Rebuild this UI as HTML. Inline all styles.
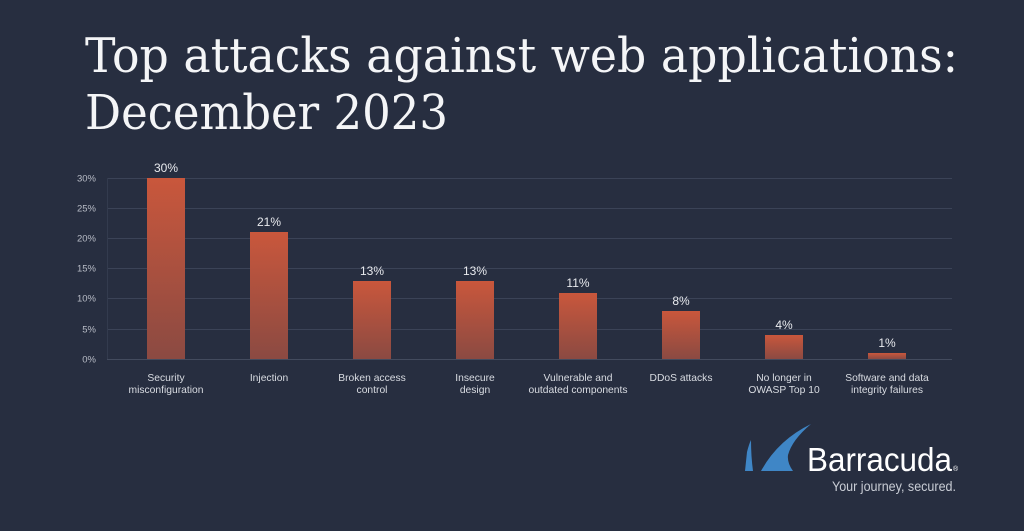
<!DOCTYPE html>
<html>
<head>
<meta charset="utf-8">
<style>
  html, body { margin: 0; padding: 0; background: #272e40; }
  body { width: 1024px; height: 531px; overflow: hidden; }
  svg { display: block; }
</style>
</head>
<body>
<svg width="1024" height="531" viewBox="0 0 1024 531" xmlns="http://www.w3.org/2000/svg">
  <defs>
    <linearGradient id="bar" x1="0" y1="0" x2="0" y2="1">
      <stop offset="0" stop-color="#c9573c"/>
      <stop offset="1" stop-color="#8b4a42"/>
    </linearGradient>
  </defs>
  <rect x="0" y="0" width="1024" height="531" fill="#272e40"/>

  <!-- Title -->
  <g font-family="'DejaVu Serif', 'Liberation Serif', serif" fill="#f4f5f7" font-size="48">
    <text x="85" y="72" textLength="873" lengthAdjust="spacingAndGlyphs">Top attacks against web applications:</text>
    <text x="85" y="129" textLength="363" lengthAdjust="spacingAndGlyphs">December 2023</text>
  </g>

  <!-- Gridlines -->
  <g stroke="#3b4357" stroke-width="1">
    <line x1="107" y1="178.5" x2="952" y2="178.5"/>
    <line x1="107" y1="208.5" x2="952" y2="208.5"/>
    <line x1="107" y1="238.5" x2="952" y2="238.5"/>
    <line x1="107" y1="268.5" x2="952" y2="268.5"/>
    <line x1="107" y1="298.5" x2="952" y2="298.5"/>
    <line x1="107" y1="329.5" x2="952" y2="329.5"/>
    <line x1="107" y1="359.5" x2="952" y2="359.5" stroke="#434b5e"/>
    <line x1="107.5" y1="178" x2="107.5" y2="359" stroke="#333b4e"/>
  </g>

  <!-- Y tick labels -->
  <g font-family="'Liberation Sans', sans-serif" font-size="9.5" fill="#b9bdc7" text-anchor="end">
    <text x="96" y="181.5">30%</text>
    <text x="96" y="211.5">25%</text>
    <text x="96" y="241.5">20%</text>
    <text x="96" y="271.5">15%</text>
    <text x="96" y="301.5">10%</text>
    <text x="96" y="332.5">5%</text>
    <text x="96" y="362.5">0%</text>
  </g>

  <!-- Bars -->
  <g fill="url(#bar)">
    <rect x="147" y="178" width="38" height="181"/>
    <rect x="250" y="232" width="38" height="127"/>
    <rect x="353" y="281" width="38" height="78"/>
    <rect x="456" y="281" width="38" height="78"/>
    <rect x="559" y="293" width="38" height="66"/>
    <rect x="662" y="311" width="38" height="48"/>
    <rect x="765" y="335" width="38" height="24"/>
    <rect x="868" y="353" width="38" height="6"/>
  </g>

  <!-- Value labels -->
  <g font-family="'Liberation Sans', sans-serif" font-size="12" fill="#e8eaee" text-anchor="middle">
    <text x="166" y="172">30%</text>
    <text x="269" y="226">21%</text>
    <text x="372" y="275">13%</text>
    <text x="475" y="275">13%</text>
    <text x="578" y="287">11%</text>
    <text x="681" y="305">8%</text>
    <text x="784" y="329">4%</text>
    <text x="887" y="347">1%</text>
  </g>

  <!-- Category labels -->
  <g font-family="'Liberation Sans', sans-serif" font-size="10.3" fill="#d9dce2" text-anchor="middle">
    <text x="166" y="381">Security</text>
    <text x="166" y="393">misconfiguration</text>
    <text x="269" y="381">Injection</text>
    <text x="372" y="381">Broken access</text>
    <text x="372" y="393">control</text>
    <text x="475" y="381">Insecure</text>
    <text x="475" y="393">design</text>
    <text x="578" y="381">Vulnerable and</text>
    <text x="578" y="393">outdated components</text>
    <text x="681" y="381">DDoS attacks</text>
    <text x="784" y="381">No longer in</text>
    <text x="784" y="393">OWASP Top 10</text>
    <text x="887" y="381">Software and data</text>
    <text x="887" y="393">integrity failures</text>
  </g>

  <!-- Logo -->
  <g fill="#3f86c6">
    <path d="M745 471 L747 452 Q749 444 751 440 Q751 456 753 471 Z"/>
    <path d="M761 471 Q778 440 811 424 Q792 440 788 455 Q787 463 793 471 Z"/>
  </g>
  <text x="807" y="471" font-family="'Liberation Sans', sans-serif" font-size="33" fill="#ffffff" textLength="145" lengthAdjust="spacingAndGlyphs">Barracuda</text>
  <text x="953" y="471" font-family="'Liberation Sans', sans-serif" font-size="7" fill="#ffffff">®</text>
  <text x="832" y="491" font-family="'Liberation Sans', sans-serif" font-size="13.5" fill="#c9cdd5" textLength="124" lengthAdjust="spacingAndGlyphs">Your journey, secured.</text>
</svg>
</body>
</html>
